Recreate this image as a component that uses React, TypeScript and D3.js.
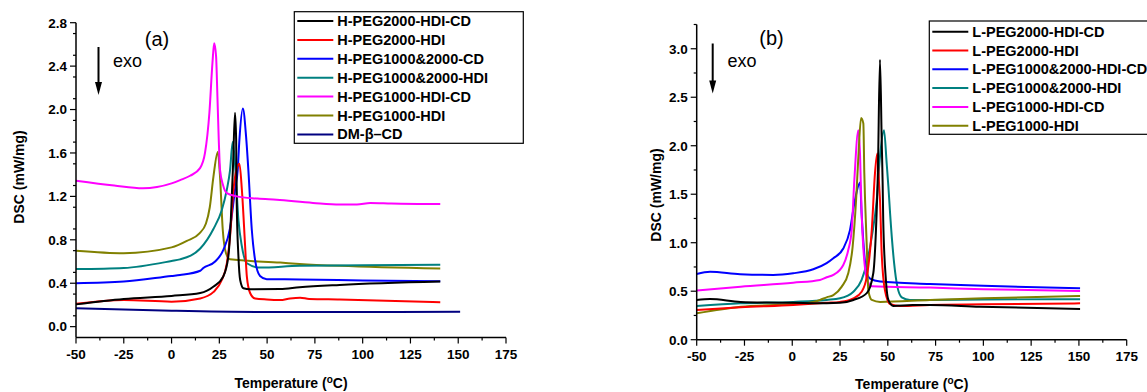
import React from "react";
import * as d3 from "d3";

// ---------- data ----------
const xTicks = [-50, -25, 0, 25, 50, 75, 100, 125, 150, 175];
const yTicksA = [0, 0.4, 0.8, 1.2, 1.6, 2.0, 2.4, 2.8];
const yTicksB = [0, 0.5, 1.0, 1.5, 2.0, 2.5, 3.0];

const legendA = ["H-PEG2000-HDI-CD", "H-PEG2000-HDI", "H-PEG1000&2000-CD", "H-PEG1000&2000-HDI", "H-PEG1000-HDI-CD", "H-PEG1000-HDI", "DM-β–CD"];
const legendB = ["L-PEG2000-HDI-CD", "L-PEG2000-HDI", "L-PEG1000&2000-HDI-CD", "L-PEG1000&2000-HDI", "L-PEG1000-HDI-CD", "L-PEG1000-HDI"];
const colorsA = ["#000000", "#ff0000", "#0000ff", "#008080", "#ff00ff", "#808000", "#000080"];
const colorsB = ["#000000", "#ff0000", "#0000ff", "#008080", "#ff00ff", "#808000"];

// Panel (a)
const aBlackT = [-50, -25, 0, 15, 22, 27, 29.7, 31, 32.2, 33.2, 33.8, 34.1, 35, 35.9, 37.6, 41, 56.8, 67, 88, 140.6];
const aBlackV = [0.205, 0.255, 0.283, 0.31, 0.37, 0.46, 0.645, 0.98, 1.5, 1.97, 1.72, 1.14, 0.645, 0.43, 0.354, 0.345, 0.347, 0.363, 0.384, 0.415];
const aRedT = [-50, -25, 0, 15, 22, 26.3, 28.9, 30.6, 32.4, 34, 35.5, 36.8, 38.5, 39.4, 41.1, 43.7, 49.8, 56.8, 62, 67.3, 72, 88, 140.6];
const aRedV = [0.21, 0.245, 0.23, 0.26, 0.32, 0.43, 0.58, 0.83, 1.26, 1.45, 1.5, 1.26, 0.74, 0.46, 0.31, 0.26, 0.25, 0.245, 0.26, 0.267, 0.255, 0.25, 0.225];
const aBlueT = [-50, -25, 0, 4.4, 15, 16.6, 22.8, 27.1, 30.6, 33.2, 34.6, 35.5, 37.3, 39, 40.2, 42, 43.7, 46.3, 49.8, 67, 100, 140.6];
const aBlueV = [0.4, 0.415, 0.467, 0.476, 0.515, 0.54, 0.6, 0.707, 0.907, 1.26, 1.44, 1.72, 2.01, 1.75, 1.44, 0.89, 0.615, 0.467, 0.437, 0.435, 0.425, 0.418];
const aTealT = [-50, -25, 0, 4.4, 15, 21.9, 26.3, 28.9, 30.6, 32, 33.2, 35, 36.8, 39.4, 46.3, 67, 100, 140.6];
const aTealV = [0.53, 0.54, 0.605, 0.62, 0.72, 0.9, 1.075, 1.26, 1.44, 1.7, 1.5, 0.98, 0.74, 0.584, 0.544, 0.56, 0.565, 0.57];
const aMagT = [-50, -30, -15, 0, 4.5, 9.7, 14.9, 17.5, 19.8, 21.4, 22.3, 23.3, 24, 24.7, 25.4, 27, 28.9, 34.1, 45, 55, 74, 88, 97, 104, 115, 140.6];
const aMagV = [1.345, 1.3, 1.275, 1.32, 1.35, 1.39, 1.46, 1.6, 1.97, 2.43, 2.61, 2.49, 2.12, 1.72, 1.44, 1.3, 1.23, 1.2, 1.18, 1.168, 1.14, 1.125, 1.125, 1.14, 1.135, 1.13];
const aOliveT = [-50, -25, 0, 8, 14.6, 18, 20, 21.9, 24.2, 25.3, 26.8, 28.5, 30.6, 56.8, 67, 88, 140.6];
const aOliveV = [0.7, 0.677, 0.73, 0.79, 0.86, 0.95, 1.1, 1.38, 1.61, 1.4, 0.89, 0.676, 0.62, 0.59, 0.578, 0.56, 0.535];
const aNavyT = [-50, 0, 50, 100, 151];
const aNavyV = [0.17, 0.147, 0.135, 0.135, 0.138];

// Panel (b)
const bBlackT = [-50, -43, -27, 0.5, 18, 25, 32, 39, 42.4, 43.8, 44.8, 45.9, 46.8, 47.3, 47.6, 49, 50.3, 52.9, 63, 72, 98, 150.6];
const bBlackV = [0.41, 0.42, 0.39, 0.38, 0.375, 0.38, 0.41, 0.48, 0.685, 1.13, 1.72, 2.886, 2.06, 1.61, 1.235, 0.616, 0.41, 0.348, 0.358, 0.358, 0.34, 0.317];
const bRedT = [-50, -27, 0.5, 18, 25, 32, 36.3, 39, 41.6, 43.3, 44.5, 45.5, 45.9, 46.8, 48.5, 51.2, 56.4, 72, 100, 150.6];
const bRedV = [0.306, 0.334, 0.358, 0.38, 0.39, 0.427, 0.495, 0.65, 1.13, 1.72, 1.92, 1.58, 1.44, 0.89, 0.51, 0.368, 0.348, 0.358, 0.365, 0.375];
const bBlueT = [-50, -43, -27.3, -10, 0.5, 11, 18, 21.5, 26.7, 30.2, 32.8, 35.5, 36.3, 39, 40.7, 46, 72, 100, 150.6];
const bBlueV = [0.678, 0.7, 0.675, 0.668, 0.685, 0.726, 0.79, 0.84, 0.94, 1.13, 1.44, 1.62, 1.3, 0.685, 0.63, 0.6, 0.575, 0.555, 0.53];
const bTealT = [-50, -27, 0.5, 18, 25, 32, 36.3, 39, 41.6, 44.2, 45.9, 48, 49.4, 50.3, 51.2, 53.3, 55, 57.3, 61.6, 72, 100, 150.6];
const bTealV = [0.348, 0.375, 0.39, 0.41, 0.427, 0.495, 0.616, 0.79, 1.06, 1.44, 1.89, 2.16, 1.82, 1.58, 1.3, 0.79, 0.547, 0.437, 0.41, 0.41, 0.415, 0.417];
const bMagT = [-50, -27, 0.5, 14.5, 18, 21.5, 26.7, 29.3, 31.1, 32.5, 34.6, 35.5, 36.3, 39, 41.6, 72, 100, 150.6];
const bMagV = [0.506, 0.547, 0.588, 0.616, 0.644, 0.668, 0.77, 0.925, 1.13, 1.65, 2.16, 1.89, 1.3, 0.63, 0.55, 0.537, 0.52, 0.503];
const bOliveT = [-50, -27, 0.5, 11, 14.5, 18, 21.5, 25.9, 29.3, 31.6, 33.4, 34.6, 36, 37.2, 37.7, 38.1, 39, 39.8, 41.6, 46, 72, 100, 150.6];
const bOliveV = [0.272, 0.34, 0.368, 0.39, 0.41, 0.437, 0.46, 0.547, 0.685, 0.96, 1.44, 1.89, 2.285, 2.23, 1.72, 1.44, 0.96, 0.51, 0.41, 0.39, 0.41, 0.427, 0.45];

const seriesA = [[aBlackT, aBlackV], [aRedT, aRedV], [aBlueT, aBlueV], [aTealT, aTealV], [aMagT, aMagV], [aOliveT, aOliveV], [aNavyT, aNavyV]];
const seriesB = [[bBlackT, bBlackV], [bRedT, bRedV], [bBlueT, bBlueV], [bTealT, bTealV], [bMagT, bMagV], [bOliveT, bOliveV]];

const FONT = "'Liberation Sans', Arial, sans-serif";

type PanelProps = {
  x0: number; x1: number; yTop: number; yBottom: number;
  yDomain: [number, number];
  yTicks: number[]; yMinorStep: number;
  series: number[][][]; colors: string[];
  legend: string[]; legendBox: [number, number, number, number];
  legendStartY: number; legendStep: number;
  label: string; labelX: number; labelY: number;
  arrowX: number; arrowY0: number; arrowY1: number;
  exoX: number; exoY: number;
  yTitleX: number; yTitleY: number;
  xTitleDy: number;
  drawOrder: number[];
};

function Panel(p: PanelProps) {
  const x = d3.scaleLinear().domain([-50, 175]).range([p.x0, p.x1]);
  const y = d3.scaleLinear().domain(p.yDomain).range([p.yBottom, p.yTop]);
  const line = d3.line<[number, number]>().x((d) => x(d[0])).y((d) => y(d[1])).curve(d3.curveMonotoneX);
  const axisY = p.yBottom;
  const xMinor = d3.range(-37.5, 175, 25);
  const yMinor = d3.range(p.yDomain[0] + p.yMinorStep, p.yDomain[1] + 1e-6, p.yMinorStep).filter(
    (v) => !p.yTicks.some((t) => Math.abs(t - v) < 1e-6)
  );
  const [lx, ly, lw, lh] = p.legendBox;
  return (
    <g>
      {p.drawOrder.map((i) => {
        const [T, V] = p.series[i];
        const pts = T.map((t, k) => [t, V[k]] as [number, number]);
        return <path key={i} d={line(pts) || ""} fill="none" stroke={p.colors[i]} strokeWidth={2} strokeLinejoin="round" />;
      })}
      {/* axes */}
      <line x1={p.x0} x2={p.x1} y1={axisY} y2={axisY} stroke="#000" strokeWidth={1.5} />
      <line x1={p.x0} x2={p.x0} y1={axisY} y2={p.yTop} stroke="#000" strokeWidth={1.5} />
      {xTicks.map((t) => (
        <g key={"xt" + t}>
          <line x1={x(t)} x2={x(t)} y1={axisY} y2={axisY + 6} stroke="#000" strokeWidth={1.2} />
          <text x={x(t)} y={axisY + 21} textAnchor="middle" fontFamily={FONT} fontWeight="bold" fontSize={13.5}>{t}</text>
        </g>
      ))}
      {xMinor.map((t) => (
        <line key={"xm" + t} x1={x(t)} x2={x(t)} y1={axisY} y2={axisY + 3} stroke="#000" strokeWidth={1.2} />
      ))}
      {p.yTicks.map((t) => (
        <g key={"yt" + t}>
          <line x1={p.x0 - 6} x2={p.x0} y1={y(t)} y2={y(t)} stroke="#000" strokeWidth={1.2} />
          <text x={p.x0 - 9} y={y(t) + 4.8} textAnchor="end" fontFamily={FONT} fontWeight="bold" fontSize={13.5}>{d3.format(".1f")(t)}</text>
        </g>
      ))}
      {yMinor.map((t) => (
        <line key={"ym" + t} x1={p.x0 - 3} x2={p.x0} y1={y(t)} y2={y(t)} stroke="#000" strokeWidth={1.2} />
      ))}
      {/* titles */}
      <text x={(p.x0 + p.x1) / 2} y={axisY + p.xTitleDy} textAnchor="middle" fontFamily={FONT} fontWeight="bold" fontSize={14}>
        Temperature (<tspan dy={-5} fontSize={10}>o</tspan><tspan dy={5}>C)</tspan>
      </text>
      <text transform={`translate(${p.yTitleX},${p.yTitleY}) rotate(-90)`} textAnchor="middle" fontFamily={FONT} fontWeight="bold" fontSize={14}>
        DSC (mW/mg)
      </text>
      {/* annotations */}
      <text x={p.labelX} y={p.labelY} textAnchor="middle" fontFamily={FONT} fontSize={20}>{p.label}</text>
      <text x={p.exoX} y={p.exoY} fontFamily={FONT} fontSize={18}>exo</text>
      <line x1={p.arrowX} x2={p.arrowX} y1={p.arrowY0} y2={p.arrowY1 - 8} stroke="#000" strokeWidth={2} />
      <path d={`M${p.arrowX - 3.5},${p.arrowY1 - 13} L${p.arrowX + 3.5},${p.arrowY1 - 13} L${p.arrowX},${p.arrowY1} Z`} fill="#000" />
      {/* legend */}
      <rect x={lx} y={ly} width={lw} height={lh} fill="#fff" stroke="#000" strokeWidth={1.2} />
      {p.legend.map((name, i) => {
        const yy = p.legendStartY + i * p.legendStep;
        return (
          <g key={name}>
            <line x1={lx + 3} x2={lx + 39} y1={yy} y2={yy} stroke={p.colors[i]} strokeWidth={2} />
            <text x={lx + 43} y={yy + 5} fontFamily={FONT} fontWeight="bold" fontSize={14.5}>{name}</text>
          </g>
        );
      })}
    </g>
  );
}

export default function App() {
  return (
    <svg width={1147} height={392} style={{ position: "absolute", left: 0, top: 0, background: "#fff" }}>
      <Panel
        x0={76} x1={506} yTop={22.7} yBottom={337.5} yDomain={[-0.1, 2.8]}
        yTicks={yTicksA} yMinorStep={0.2}
        series={seriesA} colors={colorsA}
        legend={legendA} legendBox={[294.3, 11.7, 229, 131.6]}
        legendStartY={21} legendStep={18.9}
        label="(a)" labelX={157} labelY={46}
        arrowX={98.5} arrowY0={47} arrowY1={95}
        exoX={113} exoY={67}
        yTitleX={24} yTitleY={177}
        xTitleDy={50}
        drawOrder={[6, 5, 3, 2, 1, 0, 4]}
      />
      <Panel
        x0={696.7} x1={1126.7} yTop={24.5} yBottom={339.7} yDomain={[0, 3.25]}
        yTicks={yTicksB} yMinorStep={0.25}
        series={seriesB} colors={colorsB}
        legend={legendB} legendBox={[929.3, 21, 230, 113.3]}
        legendStartY={31.7} legendStep={18.8}
        label="(b)" labelX={771.5} labelY={45}
        arrowX={712.7} arrowY0={43.5} arrowY1={93.5}
        exoX={727.5} exoY={67}
        yTitleX={661} yTitleY={195}
        xTitleDy={49}
        drawOrder={[3, 2, 4, 5, 1, 0]}
      />
    </svg>
  );
}
